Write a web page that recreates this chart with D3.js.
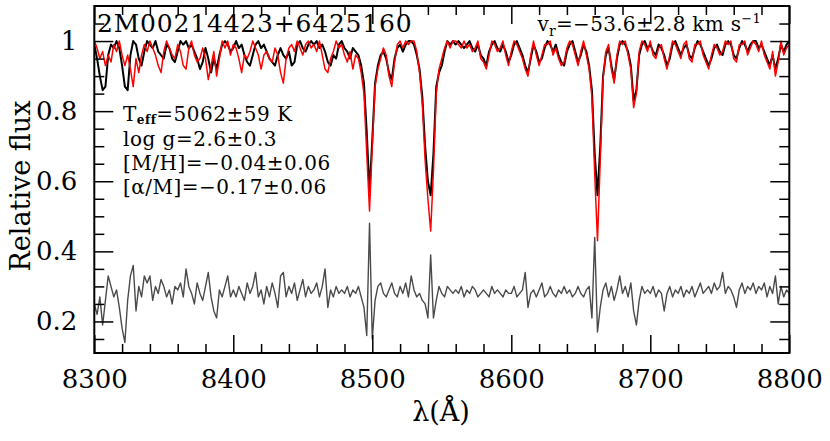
<!DOCTYPE html>
<html><head><meta charset="utf-8">
<script src="https://cdn.jsdelivr.net/npm/d3@7"></script>
<style>body{margin:0;background:#fff}svg{display:block}text{font-family:"DejaVu Serif",serif;fill:#000}</style>
</head><body>
<svg id="c" width="830" height="441"></svg>
<script>
// wavelength grid (Angstrom): start, end, sampling step
const lambdaStart = 8300, lambdaEnd = 8800, lambdaStep = 2;
// observed spectrum (black)
const observed = [
0.99,0.95,0.90,0.86,0.87,0.96,0.99,0.98,1.00,0.98,
0.93,0.87,0.86,0.96,1.00,0.99,0.95,0.93,0.97,1.00,
0.99,0.98,1.00,0.97,0.96,0.95,0.99,0.98,0.95,0.94,
0.97,1.00,0.99,1.00,0.98,0.99,0.97,0.95,0.92,0.94,
0.98,0.95,0.91,0.95,0.92,0.96,0.99,1.00,0.99,0.97,
0.98,1.00,0.98,0.99,0.96,0.94,0.93,0.96,0.99,1.00,
0.98,0.99,0.97,0.95,0.94,0.93,0.96,0.98,0.96,0.95,
0.97,0.93,0.94,0.99,1.00,0.98,0.97,0.99,1.00,0.99,
1.00,0.98,0.99,0.97,0.94,0.93,0.96,0.95,0.99,1.00,
0.98,0.97,0.95,0.98,0.97,0.96,0.93,0.88,0.74,0.57,
0.72,0.88,0.93,0.96,0.97,0.95,0.91,0.89,0.95,0.98,
0.99,0.97,0.99,1.00,1.00,0.99,0.96,0.92,0.84,0.70,
0.60,0.56,0.68,0.87,0.91,0.93,0.97,1.00,0.99,1.00,
0.99,1.00,0.99,0.98,0.99,1.00,0.98,0.97,0.99,0.96,
0.95,0.93,0.97,0.99,1.00,0.98,0.97,0.99,0.97,0.94,
0.96,0.99,1.00,0.98,0.96,0.93,0.91,0.95,0.99,0.97,
0.94,0.95,0.98,1.00,0.99,0.97,0.99,0.96,0.94,0.93,
0.97,0.99,1.00,0.97,0.94,0.96,0.99,0.97,0.93,0.86,
0.68,0.56,0.70,0.90,0.96,0.98,0.93,0.89,0.95,0.99,
1.00,0.99,0.97,0.93,0.83,0.86,0.96,0.99,1.00,0.98,
0.99,0.97,0.96,0.99,0.98,0.96,0.93,0.95,0.99,1.00,
0.98,0.96,0.98,0.99,0.96,0.95,0.98,1.00,0.99,0.97,
0.95,0.93,0.95,0.98,0.99,0.97,0.96,0.99,1.00,0.99,
0.96,0.95,0.98,1.00,0.99,0.97,0.99,1.00,1.00,0.98,
0.99,0.97,0.95,0.93,0.96,0.92,0.95,0.99,0.97,0.99,
1.00];
// best-fit model spectrum (red)
const model = [
1.00,0.98,0.95,0.97,0.93,0.96,0.94,0.99,0.97,1.00,
0.96,0.93,0.96,0.92,0.87,0.95,0.91,0.96,0.99,0.97,
1.00,0.98,0.96,0.93,0.91,0.97,1.00,0.98,0.96,0.95,
0.99,0.97,0.93,0.92,0.98,1.00,0.96,0.94,0.95,0.98,
0.95,0.89,0.93,0.97,0.90,0.95,1.00,0.98,1.00,0.96,
0.99,0.98,0.95,0.91,0.96,0.95,0.97,1.00,0.98,0.96,
0.92,0.96,0.97,0.95,0.94,0.98,0.96,0.91,0.88,0.95,
0.98,0.99,0.97,1.00,0.98,0.96,0.99,1.00,0.98,0.99,
0.97,1.00,0.96,0.92,0.91,0.95,0.97,1.00,0.98,0.99,
0.96,0.94,0.97,0.92,0.96,0.95,0.91,0.85,0.68,0.515,
0.70,0.87,0.92,0.95,0.98,0.96,0.90,0.87,0.94,0.99,
1.00,0.98,1.00,0.99,1.00,1.00,0.97,0.91,0.82,0.66,
0.55,0.458,0.63,0.85,0.92,0.95,0.98,1.00,0.98,1.00,
1.00,0.99,0.98,1.00,0.98,0.99,0.97,0.98,1.00,0.95,
0.94,0.92,0.96,1.00,0.99,0.97,0.98,1.00,0.96,0.93,
0.97,1.00,0.99,0.97,0.95,0.92,0.90,0.96,1.00,0.96,
0.93,0.96,0.99,0.99,1.00,0.96,0.98,0.95,0.93,0.94,
0.98,1.00,0.99,0.96,0.93,0.97,1.00,0.96,0.92,0.84,
0.62,0.43,0.66,0.89,0.97,0.99,0.92,0.88,0.96,1.00,
0.99,1.00,0.96,0.92,0.81,0.85,0.97,1.00,0.99,0.97,
1.00,0.96,0.95,0.98,0.99,0.95,0.92,0.96,1.00,0.99,
0.97,0.95,0.99,1.00,0.95,0.94,0.99,0.99,1.00,0.96,
0.94,0.92,0.96,0.99,0.98,0.96,0.97,1.00,0.99,1.00,
0.95,0.94,0.99,0.99,1.00,0.96,0.98,1.00,0.99,0.97,
1.00,0.96,0.94,0.92,0.97,0.90,0.94,1.00,0.96,0.98,
0.99];
// residuals, offset (grey)
const residual = [
0.25,0.22,0.27,0.19,0.26,0.33,0.30,0.27,0.29,0.24,
0.18,0.14,0.26,0.33,0.36,0.23,0.30,0.27,0.33,0.31,
0.33,0.26,0.30,0.28,0.32,0.30,0.27,0.29,0.25,0.30,
0.29,0.31,0.27,0.35,0.30,0.28,0.25,0.31,0.28,0.26,
0.30,0.34,0.27,0.23,0.21,0.29,0.27,0.30,0.33,0.27,
0.29,0.27,0.30,0.28,0.26,0.31,0.28,0.30,0.34,0.27,
0.29,0.25,0.30,0.27,0.31,0.28,0.24,0.33,0.34,0.27,
0.30,0.28,0.31,0.26,0.29,0.32,0.27,0.30,0.28,0.29,
0.31,0.27,0.30,0.35,0.24,0.29,0.27,0.30,0.28,0.29,
0.28,0.30,0.27,0.29,0.28,0.30,0.27,0.24,0.16,0.48,
0.15,0.26,0.30,0.31,0.28,0.27,0.29,0.31,0.28,0.27,
0.30,0.28,0.31,0.27,0.33,0.29,0.27,0.28,0.26,0.25,
0.21,0.39,0.21,0.26,0.30,0.28,0.27,0.30,0.29,0.28,
0.29,0.28,0.30,0.27,0.29,0.28,0.30,0.29,0.27,0.28,
0.29,0.28,0.27,0.30,0.28,0.29,0.28,0.27,0.29,0.28,
0.28,0.30,0.27,0.28,0.29,0.34,0.24,0.28,0.29,0.27,
0.29,0.31,0.27,0.28,0.30,0.28,0.27,0.29,0.28,0.30,
0.28,0.29,0.27,0.28,0.30,0.28,0.27,0.29,0.30,0.21,
0.44,0.17,0.24,0.29,0.31,0.27,0.30,0.26,0.29,0.33,
0.28,0.30,0.27,0.31,0.23,0.19,0.26,0.30,0.28,0.29,
0.28,0.30,0.27,0.29,0.28,0.23,0.28,0.30,0.27,0.29,
0.28,0.30,0.27,0.29,0.28,0.30,0.27,0.29,0.31,0.28,
0.29,0.30,0.28,0.31,0.29,0.30,0.34,0.28,0.30,0.29,
0.27,0.24,0.29,0.31,0.28,0.30,0.29,0.31,0.28,0.30,
0.29,0.31,0.27,0.30,0.28,0.33,0.25,0.30,0.27,0.29,
0.28];
const xMajorTicks = [8300, 8400, 8500, 8600, 8700, 8800];
const xMinorTicks = [8320,8340,8360,8380,8420,8440,8460,8480,8520,8540,8560,8580,8620,8640,8660,8680,8720,8740,8760,8780];
const yMajorTicks = [0.2, 0.4, 0.6, 0.8, 1];
const yMinorTicks = [0.15,0.25,0.3,0.35,0.45,0.5,0.55,0.65,0.7,0.75,0.85,0.9,0.95,1.05];
const starName = "2M00214423+6425160";
const params = [
  {name:"T", sub:"eff", val:"=5062±59 K"},
  {name:"log g", sub:"", val:"=2.6±0.3"},
  {name:"[M/H]", sub:"", val:"=−0.04±0.06"},
  {name:"[α/M]", sub:"", val:"=−0.17±0.06"}
];

const svg = d3.select("#c");
const L = 94.3, R = 789.3, T = 6, B = 353;
const x = d3.scaleLinear().domain([8300, 8800]).range([L, R]);
const y = d3.scaleLinear().domain([0.11, 1.1]).range([B, T]);
const lambda = d3.range(lambdaStart, lambdaEnd + 0.001, lambdaStep);

svg.append("clipPath").attr("id","clip").append("rect")
  .attr("x", L).attr("y", T).attr("width", R-L).attr("height", B-T);

const line = d3.line().x((d,i)=>x(lambda[i])).y(d=>y(d));
const g = svg.append("g").attr("clip-path","url(#clip)");
g.append("path").datum(residual).attr("d", line).attr("fill","none").attr("stroke","#4a4a4a").attr("stroke-width",1.4).attr("stroke-linejoin","round");
g.append("path").datum(observed).attr("d", line).attr("fill","none").attr("stroke","#000").attr("stroke-width",2).attr("stroke-linejoin","round");
g.append("path").datum(model).attr("d", line).attr("fill","none").attr("stroke","#ff0000").attr("stroke-width",1.5).attr("stroke-linejoin","round");

function styleAxis(sel){
  sel.select(".domain").remove();
  sel.selectAll("line").attr("stroke","#000").attr("stroke-width",1.5);
  sel.selectAll("text").style("font-family","'DejaVu Serif', serif").style("font-size","26px").attr("fill","#000");
}
svg.append("g").attr("transform",`translate(0,${B})`).call(d3.axisBottom(x).tickValues(xMajorTicks).tickSize(-18).tickPadding(17).tickFormat(d3.format("d"))).call(styleAxis);
svg.append("g").attr("transform",`translate(0,${B})`).call(d3.axisBottom(x).tickValues(xMinorTicks).tickSize(-9).tickFormat("")).call(styleAxis);
svg.append("g").attr("transform",`translate(0,${T})`).call(d3.axisTop(x).tickValues(xMajorTicks).tickSize(-18).tickFormat("")).call(styleAxis);
svg.append("g").attr("transform",`translate(0,${T})`).call(d3.axisTop(x).tickValues(xMinorTicks).tickSize(-9).tickFormat("")).call(styleAxis);
svg.append("g").attr("transform",`translate(${L},0)`).call(d3.axisLeft(y).tickValues(yMajorTicks).tickSize(-19).tickPadding(17).tickFormat(d3.format(""))).call(styleAxis);
svg.append("g").attr("transform",`translate(${L},0)`).call(d3.axisLeft(y).tickValues(yMinorTicks).tickSize(-10).tickFormat("")).call(styleAxis);
svg.append("g").attr("transform",`translate(${R},0)`).call(d3.axisRight(y).tickValues(yMajorTicks).tickSize(-19).tickFormat("")).call(styleAxis);
svg.append("g").attr("transform",`translate(${R},0)`).call(d3.axisRight(y).tickValues(yMinorTicks).tickSize(-10).tickFormat("")).call(styleAxis);

svg.append("rect").attr("x",L).attr("y",T).attr("width",R-L).attr("height",B-T)
  .attr("fill","none").attr("stroke","#000").attr("stroke-width",2);

// title
svg.append("text").attr("x",97).attr("y",32).style("font-size","25px").style("letter-spacing","0.8px").text(starName);
// radial velocity
const vr = svg.append("text").attr("x",761).attr("y",31).attr("text-anchor","end").style("font-size","20px").style("letter-spacing","0.3px");
vr.append("tspan").text("v");
vr.append("tspan").attr("dy",5).style("font-size","14px").text("r");
vr.append("tspan").attr("dy",-5).text("=−53.6±2.8 km s");
vr.append("tspan").attr("dy",-8).style("font-size","13px").text("−1");
// parameters
const paramY = [121, 146, 170, 194];
params.forEach((p,i)=>{
  const t = svg.append("text").attr("x",123).attr("y",paramY[i]).style("font-size","20px").style("letter-spacing","0.5px");
  t.append("tspan").text(p.name);
  if(p.sub){
    t.append("tspan").attr("dy",3).style("font-size","12px").style("font-weight","bold").text(p.sub);
    t.append("tspan").attr("dy",-3).text(p.val);
  } else t.append("tspan").text(p.val);
});
// axis labels
svg.append("text").attr("transform","translate(30,186) rotate(-90)").attr("text-anchor","middle").style("font-size","27px").text("Relative flux");
svg.append("text").attr("x",441).attr("y",421).attr("text-anchor","middle").style("font-size","27px").text("λ(Å)");
</script>
</body></html>
